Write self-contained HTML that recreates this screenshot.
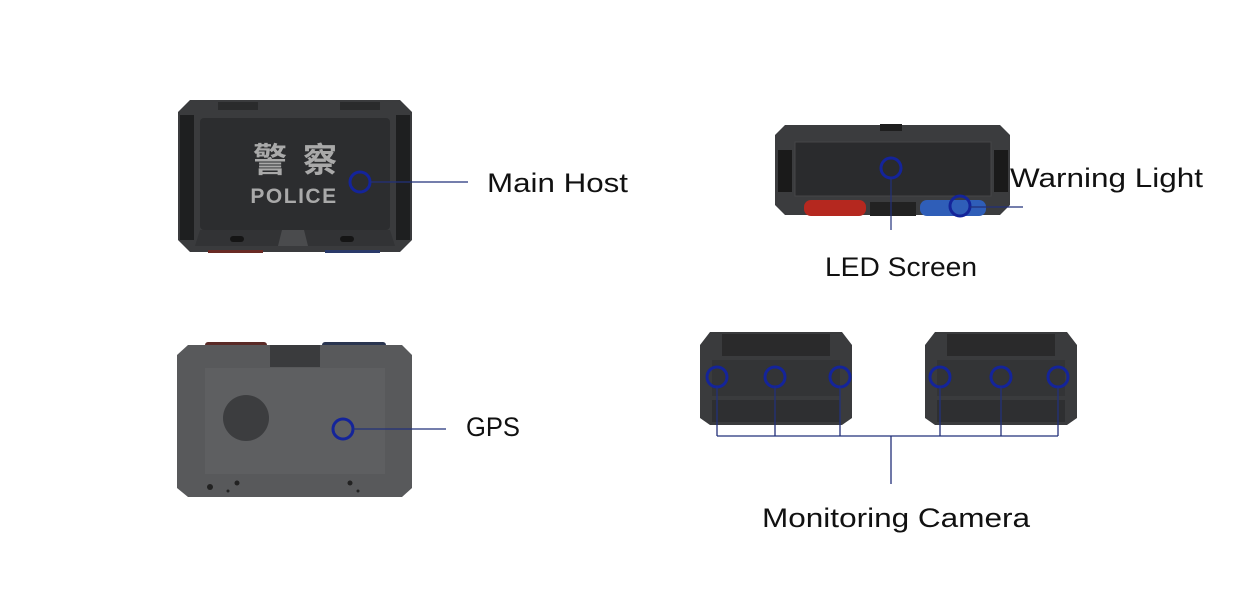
<!DOCTYPE html>
<html><head><meta charset="utf-8"><style>
html,body{margin:0;padding:0;background:#fff;width:1235px;height:611px;overflow:hidden}
text{font-family:"Liberation Sans","Noto Sans CJK SC",sans-serif}
</style></head><body>
<svg width="1235" height="611" viewBox="0 0 1235 611" xmlns="http://www.w3.org/2000/svg">
<!-- Main host -->
<path d="M190,100 L400,100 L412,112 L412,240 L400,252 L190,252 L178,240 L178,112 Z" fill="#3a3b3d"/>
<rect x="180" y="115" width="14" height="125" fill="#1e1f20"/>
<rect x="396" y="115" width="14" height="125" fill="#1e1f20"/>
<rect x="218" y="102" width="40" height="8" fill="#2a2b2c"/>
<rect x="340" y="102" width="40" height="8" fill="#2a2b2c"/>
<rect x="200" y="118" width="190" height="112" rx="4" fill="#2c2d2f"/>
<path d="M200,230 L390,230 L395,246 L195,246 Z" fill="#323335"/>
<path d="M282,230 L304,230 L308,246 L278,246 Z" fill="#4a4b4d"/>
<rect x="230" y="236" width="14" height="6" rx="3" fill="#151515"/>
<rect x="340" y="236" width="14" height="6" rx="3" fill="#151515"/>
<rect x="208" y="250" width="55" height="3" fill="#6a2a24"/>
<rect x="325" y="250" width="55" height="3" fill="#2a3a6a"/>
<text x="253" y="172" font-size="34" font-weight="bold" fill="#a9a9a9" textLength="84" lengthAdjust="spacing">警察</text>
<text x="294" y="203" font-size="21" font-weight="bold" fill="#a9a9a9" text-anchor="middle" letter-spacing="1.5">POLICE</text>
<circle cx="360" cy="182" r="10" fill="none" stroke="#14249a" stroke-width="3"/>
<line x1="370" y1="182" x2="468" y2="182" stroke="#22307a" stroke-width="1.2"/>
<text x="487" y="192" font-size="27" fill="#111" textLength="141" lengthAdjust="spacingAndGlyphs">Main Host</text>

<!-- Warning light device -->
<path d="M785,125 L1000,125 L1010,135 L1010,205 L1000,215 L785,215 L775,205 L775,135 Z" fill="#3b3c3e"/>
<rect x="880" y="124" width="22" height="7" fill="#1e1e1e"/>
<rect x="778" y="150" width="14" height="42" fill="#1a1a1a"/>
<rect x="994" y="150" width="14" height="42" fill="#1a1a1a"/>
<rect x="795" y="142" width="196" height="54" fill="#2a2b2d" stroke="#454648"/>
<rect x="804" y="200" width="62" height="16" rx="7" fill="#b5281f"/>
<rect x="920" y="200" width="66" height="16" rx="7" fill="#2f5eb8"/>
<rect x="870" y="202" width="46" height="14" fill="#222"/>
<circle cx="891" cy="168" r="10" fill="none" stroke="#14249a" stroke-width="3"/>
<line x1="891" y1="178" x2="891" y2="230" stroke="#22307a" stroke-width="1.2"/>
<circle cx="960" cy="206" r="10" fill="none" stroke="#14249a" stroke-width="3"/>
<line x1="970" y1="207" x2="1023" y2="207" stroke="#22307a" stroke-width="1.2"/>
<text x="1010" y="187" font-size="27" fill="#111" textLength="193" lengthAdjust="spacingAndGlyphs">Warning Light</text>
<text x="825" y="276" font-size="27" fill="#111" textLength="152" lengthAdjust="spacingAndGlyphs">LED Screen</text>

<!-- GPS device -->
<rect x="205" y="342" width="62" height="10" rx="3" fill="#5a2a26"/>
<rect x="322" y="342" width="64" height="10" rx="3" fill="#2a3550"/>
<path d="M188,345 L402,345 L412,355 L412,488 L402,497 L188,497 L177,488 L177,355 Z" fill="#58595b"/>
<rect x="270" y="345" width="50" height="22" fill="#3a3b3d"/>
<rect x="205" y="368" width="180" height="106" fill="#5e5f61"/>
<circle cx="246" cy="418" r="23" fill="#3c3d3f"/>
<g fill="#222"><circle cx="210" cy="487" r="3"/><circle cx="237" cy="483" r="2.5"/><circle cx="350" cy="483" r="2.5"/><circle cx="228" cy="491" r="1.5"/><circle cx="358" cy="491" r="1.5"/></g>
<circle cx="343" cy="429" r="10" fill="none" stroke="#14249a" stroke-width="3"/>
<line x1="353" y1="429" x2="446" y2="429" stroke="#22307a" stroke-width="1.2"/>
<text x="466" y="436" font-size="27" fill="#111" textLength="54" lengthAdjust="spacingAndGlyphs">GPS</text>

<!-- Cameras -->
<g>
<path d="M710,332 L842,332 L852,345 L852,418 L842,425 L710,425 L700,418 L700,345 Z" fill="#3a3b3d"/>
<rect x="722" y="334" width="108" height="22" fill="#2a2a2b"/>
<rect x="712" y="360" width="128" height="36" fill="#333436"/>
<rect x="712" y="400" width="128" height="22" fill="#2e2f31"/>
</g>
<g>
<path d="M935,332 L1067,332 L1077,345 L1077,418 L1067,425 L935,425 L925,418 L925,345 Z" fill="#3a3b3d"/>
<rect x="947" y="334" width="108" height="22" fill="#2a2a2b"/>
<rect x="937" y="360" width="128" height="36" fill="#333436"/>
<rect x="937" y="400" width="128" height="22" fill="#2e2f31"/>
</g>
<g fill="none" stroke="#14249a" stroke-width="3">
<circle cx="717" cy="377" r="10"/><circle cx="775" cy="377" r="10"/><circle cx="840" cy="377" r="10"/>
<circle cx="940" cy="377" r="10"/><circle cx="1001" cy="377" r="10"/><circle cx="1058" cy="377" r="10"/>
</g>
<g stroke="#22307a" stroke-width="1.3">
<line x1="717" y1="387" x2="717" y2="436"/><line x1="775" y1="387" x2="775" y2="436"/><line x1="840" y1="387" x2="840" y2="436"/>
<line x1="940" y1="387" x2="940" y2="436"/><line x1="1001" y1="387" x2="1001" y2="436"/><line x1="1058" y1="387" x2="1058" y2="436"/>
<line x1="717" y1="436" x2="1058" y2="436"/>
<line x1="891" y1="436" x2="891" y2="484"/>
</g>
<text x="762" y="527" font-size="27" fill="#111" textLength="268" lengthAdjust="spacingAndGlyphs">Monitoring Camera</text>
</svg>
</body></html>
